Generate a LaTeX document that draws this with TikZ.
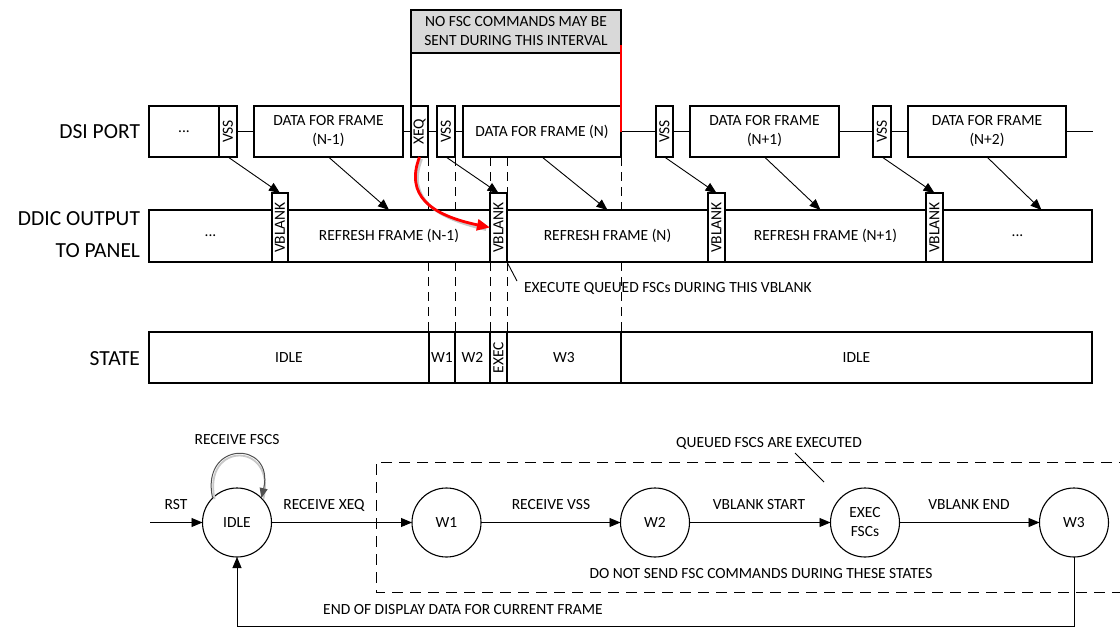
\documentclass[tikz,border=0pt]{standalone}
\usepackage{fontspec}
\setmainfont{Carlito}
\usepackage{graphicx}
\usetikzlibrary{arrows.meta,calc}
\definecolor{notegray}{RGB}{217,217,217}
\definecolor{loopgray}{RGB}{80,80,80}
\definecolor{shadowgray}{RGB}{200,200,200}
\tikzset{
  every node/.style={font=\fontsize{15.5}{19}\selectfont, inner sep=0pt, outer sep=0pt},
  box/.style={draw, line width=1.1pt, fill=white, align=center},
  lbl/.style={font=\fontsize{21.5}{32}\selectfont, align=right},
  conn/.style={line width=1.1pt},
  arr/.style={line width=0.9pt, -{Triangle[length=11pt,width=9pt]}},
  vdash/.style={line width=1pt, dash pattern=on 9pt off 6pt},
  grpdash/.style={line width=1pt, dash pattern=on 11pt off 7pt},
  st/.style={draw, circle, line width=1.1pt, minimum size=69pt, align=center},
}
\newcommand\bx[7][]{\node[box,#1,minimum width={(#4-#2)*1pt},minimum height={(#5-#3)*1pt}] (#6) at ({(#2+#4)/2},{(#3+#5)/2}) {#7};}
\begin{document}
\begin{tikzpicture}[x=1pt,y=-1pt]
\useasboundingbox (0,0) rectangle (1120,627);
% ---------- DSI PORT row ----------
\bx{149}{106}{219}{157}{dsidots}{...}
\bx{219}{106}{237}{157}{vssa}{\rotatebox{90}{VSS}}
\bx{254}{106}{403}{157}{dna}{DATA FOR FRAME\\(N-1)}
\bx{411}{106}{428}{157}{xeq}{\rotatebox{90}{XEQ}}
\bx{437}{106}{455}{157}{vssb}{\rotatebox{90}{VSS}}
\bx{463}{106}{621}{157}{dnb}{DATA FOR FRAME (N)}
\bx{656}{106}{673}{157}{vssc}{\rotatebox{90}{VSS}}
\bx{690}{106}{839}{157}{dnc}{DATA FOR FRAME\\(N+1)}
\bx{873}{106}{891}{157}{vssd}{\rotatebox{90}{VSS}}
\bx{908}{106}{1066}{157}{dnd}{DATA FOR FRAME\\(N+2)}
\coordinate (dsiend) at (1093,131.5);
\draw[conn] (vssa.east) -- (dna.west);
\draw[conn] (dna.east) -- (xeq.west);
\draw[conn] (xeq.east) -- (vssb.west);
\draw[conn] (vssb.east) -- (dnb.west);
\draw[conn] (dnb.east) -- (vssc.west);
\draw[conn] (vssc.east) -- (dnc.west);
\draw[conn] (dnc.east) -- (vssd.west);
\draw[conn] (vssd.east) -- (dnd.west);
\draw[conn] (dnd.east) -- (dsiend);
% ---------- note ----------
\bx[fill=notegray]{411}{10}{621}{53}{note}{NO FSC COMMANDS MAY BE\\SENT DURING THIS INTERVAL}
\draw[conn] (note.south west) -- (xeq.north west);
\coordinate (redtop) at (621,45);
\draw[red, line width=1.5pt] (dnb.east) -- (redtop);
% ---------- DDIC row ----------
\bx{149}{210}{272}{262}{ddots}{...}
\bx{288}{210}{490}{262}{rfa}{REFRESH FRAME (N-1)}
\bx{507}{210}{708}{262}{rfb}{REFRESH FRAME (N)}
\bx{725}{210}{926}{262}{rfc}{REFRESH FRAME (N+1)}
\bx{943}{210}{1092}{262}{ddotsb}{...}
\bx{272}{193}{288}{262}{vba}{\rotatebox{90}{VBLANK}}
\bx{490}{193}{507}{262}{vbb}{\rotatebox{90}{VBLANK}}
\bx{708}{193}{725}{262}{vbc}{\rotatebox{90}{VBLANK}}
\bx{926}{193}{943}{262}{vbd}{\rotatebox{90}{VBLANK}}
% ---------- STATE row ----------
\bx{149}{332}{429}{383}{sia}{IDLE}
\bx{429}{332}{455}{383}{swa}{W1}
\bx{455}{332}{490}{383}{swb}{W2}
\bx{490}{332}{507}{383}{sex}{\rotatebox{90}{EXEC}}
\bx{507}{332}{621}{383}{swc}{W3}
\bx{621}{332}{1092}{383}{sib}{IDLE}
% ---------- row labels ----------
\node[lbl, anchor=east] (ldsi) at (140,131.5) {DSI PORT};
\node[lbl, anchor=east] (lddic) at (140,235) {DDIC OUTPUT\\TO PANEL};
\node[lbl, anchor=east] (lstate) at (140,359) {STATE};
% ---------- DSI -> DDIC arrows ----------
\draw[arr] (vssa.south) -- (vba.north);
\draw[arr] (dna.south) -- (rfa.north);
\draw[arr] (vssb.south) -- (vbb.north);
\draw[arr] (dnb.south) -- (rfb.north);
\draw[arr] (vssc.south) -- (vbc.north);
\draw[arr] (dnc.south) -- ([xshift=-5pt]rfc.north);
\draw[arr] (vssd.south) -- (vbd.north);
\draw[arr] (dnd.south) -- ([xshift=24pt]ddotsb.north);
% ---------- dashed timing lines ----------
\draw[vdash] (xeq.south east) -- (xeq.south east |- rfa.north);
\draw[vdash] (xeq.south east |- rfa.south) -- (xeq.south east |- swa.north);
\draw[vdash] (vssb.south east) -- (vssb.south east |- rfa.north);
\draw[vdash] (vssb.south east |- rfa.south) -- (vssb.south east |- swb.north);
\draw[vdash] (dnb.south -| vbb.west) -- (vbb.north west);
\draw[vdash] (vbb.south west) -- (sex.north west);
\draw[vdash] (dnb.south -| vbb.east) -- (vbb.north east);
\draw[vdash] (vbb.south east) -- (sex.north east);
\draw[vdash] (dnb.south east) -- (dnb.south east |- rfb.north);
\draw[vdash] (dnb.south east |- rfb.south) -- (swc.north east);
% ---------- red curved arrow ----------
\draw[shadowgray, line width=2.8pt] ([shift={(2,2)}]xeq.south) .. controls (407,197) and (432,217) .. ([shift={(-4,2)}]vbb.west);
\draw[red, line width=2.8pt, -{Triangle[length=13pt,width=11pt]}] (xeq.south) .. controls (405,195) and (430,215) .. (vbb.west);
% ---------- execute note ----------
\node[anchor=west] (texec) at (524,288) {EXECUTE QUEUED FSCs DURING THIS VBLANK};
\coordinate (exl) at (517,281);
\draw[line width=0.9pt] (vbb.south east) -- (exl);
% ---------- state machine ----------
\draw[grpdash] (1130,462) -- (376,462) -- (376,592) -- (1130,592);
\node[st] (idle) at (237,522.5) {IDLE};
\node[st] (w1) at (446.5,522.5) {W1};
\node[st] (w2) at (655,522.5) {W2};
\node[st] (exs) at (865,522.5) {EXEC\\FSCs};
\node[st] (w3) at (1074,522.5) {W3};
\coordinate (rstin) at (150,522.5);
\draw[arr] (rstin) -- (idle);
\draw[arr] (idle) -- (w1);
\draw[arr] (w1) -- (w2);
\draw[arr] (w2) -- (exs);
\draw[arr] (exs) -- (w3);
\coordinate (fb) at (1074,626);
\draw[arr] (w3.south) -- (fb) -| (idle.south);
\draw[shadowgray, line width=1.8pt] ([shift={(2,1)}]idle.135) .. controls (202,441) and (277,441) .. ([shift={(2,1)}]idle.45);
\draw[loopgray, line width=1pt, -{Triangle[length=10pt,width=8pt]}] (idle.135) .. controls (200,440) and (275,440) .. (idle.45);
\node (trst) at (176,505) {RST};
\node (txeq) at (324,505) {RECEIVE XEQ};
\node (tvss) at (551,505) {RECEIVE VSS};
\node (tvbs) at (759,505) {VBLANK START};
\node (tvbe) at (969,505) {VBLANK END};
\node (tfsc) at (237,440) {RECEIVE FSCS};
\node (tqueued) at (769,443) {QUEUED FSCS ARE EXECUTED};
\coordinate (qa) at (795,453);
\coordinate (qb) at (824,482);
\draw[line width=0.9pt] (qa) -- (qb);
\node (tdonot) at (761,574) {DO NOT SEND FSC COMMANDS DURING THESE STATES};
\node (tend) at (463,610) {END OF DISPLAY DATA FOR CURRENT FRAME};
\end{tikzpicture}
\end{document}
